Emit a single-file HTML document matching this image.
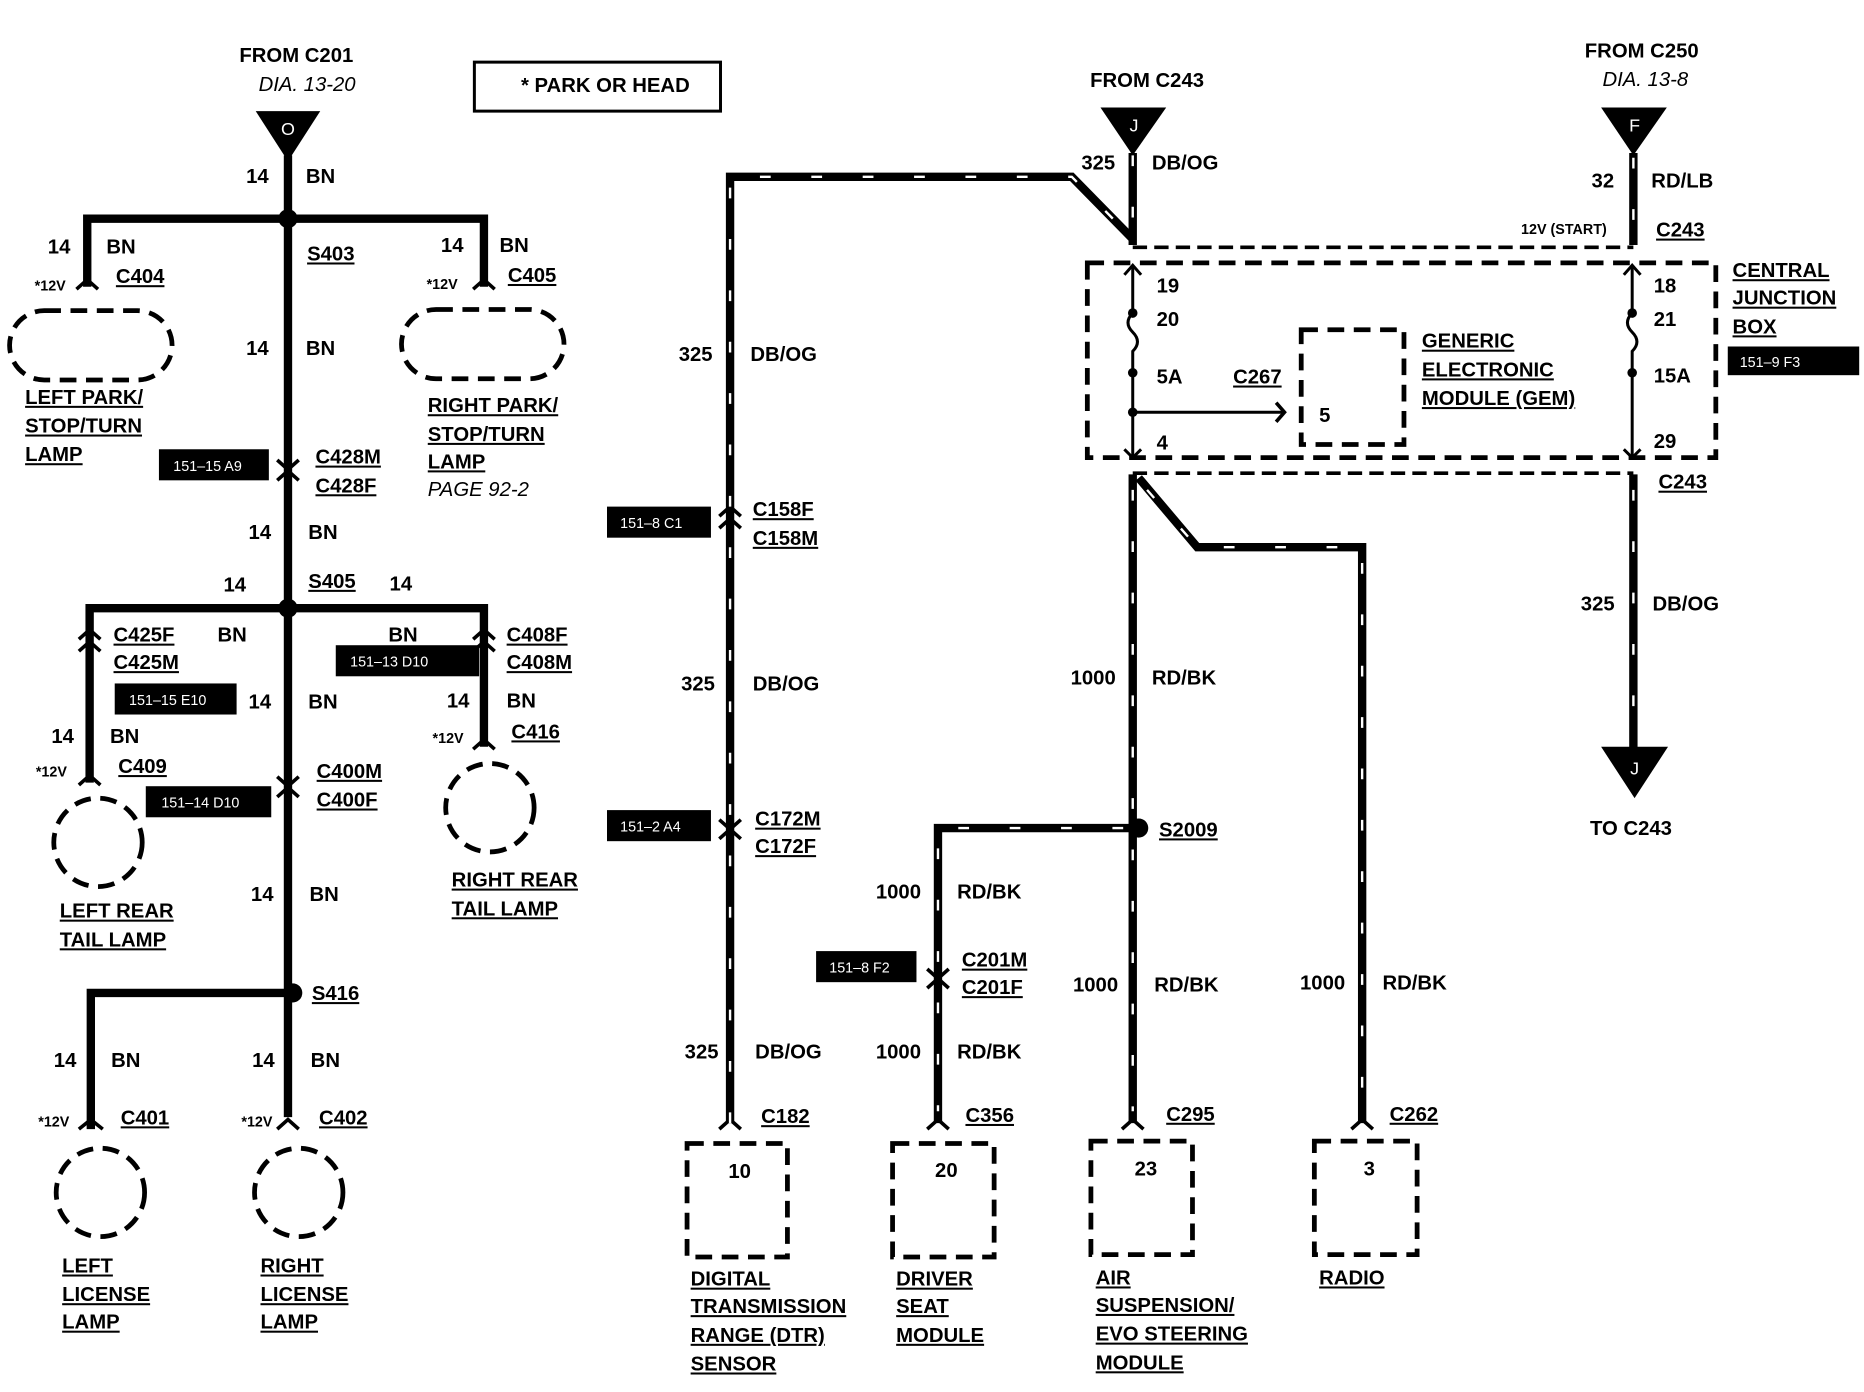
<!DOCTYPE html>
<html><head><meta charset="utf-8"><style>
html,body{margin:0;padding:0;background:#fff;}
svg{display:block;}
text{font-family:"Liberation Sans",sans-serif;font-weight:bold;font-size:17px;fill:#000;}
.u{text-decoration:underline;}
.s{font-size:12px;}
.i{font-style:italic;font-weight:normal;}
.w{fill:#fff;font-weight:normal;font-size:12px;}
.m{text-anchor:middle;}
</style></head><body>
<svg width="1864" height="1392" viewBox="0 0 1560 1165" xmlns="http://www.w3.org/2000/svg">
<g stroke="#000" stroke-width="7" fill="none">
<!-- left section -->
<path d="M241 130 V935"/>
<path d="M73 240 V183 H405 V240"/>
<path d="M75 655 V509 H405 V625"/>
<path d="M76 945 V831 H245"/>
</g>
<g fill="#000">
<polygon points="214,93 268,93 241,135"/>
<polygon points="921,90 976,90 948,130"/>
<polygon points="1340,90 1395,90 1367,130"/>
<polygon points="1340,625 1396,625 1368,668"/>
<circle cx="241" cy="183" r="8"/><circle cx="241" cy="509" r="8"/><circle cx="245" cy="831" r="8"/>
<circle cx="953" cy="693" r="8"/>
</g>
<text x="241" y="113" class="m" style="fill:#fff;font-weight:normal;font-size:15px">O</text>
<text x="949" y="110" class="m" style="fill:#fff;font-weight:normal;font-size:15px">J</text>
<text x="1368" y="110" class="m" style="fill:#fff;font-weight:normal;font-size:15px">F</text>
<text x="1368" y="648" class="m" style="fill:#fff;font-weight:normal;font-size:15px">J</text>
<!-- connector chevrons -->
<g stroke="#000" stroke-width="3" fill="none">
<path d="M64 242 L73 234 L82 242"/><path d="M396 242 L405 234 L414 242"/>
<path d="M66 657 L75 649 L84 657"/><path d="M396 627 L405 619 L414 627"/>
<path d="M66 945 L76 937 L86 945"/><path d="M232 945 L241 937 L250 945"/>
<path d="M232 385 L241 393 L250 385"/><path d="M232 402 L241 394 L250 402"/>
<path d="M232 650 L241 658 L250 650"/><path d="M232 667 L241 659 L250 667"/>
<path d="M66 545 L75 537 L84 545"/><path d="M66 535 L75 527 L84 535"/>
<path d="M396 545 L405 537 L414 545"/><path d="M396 535 L405 527 L414 535"/>
<path d="M602 442 L611 434 L620 442"/><path d="M602 432 L611 424 L620 432"/>
<path d="M602 686 L611 694 L620 686"/><path d="M602 702 L611 694 L620 702"/>
<path d="M776 811 L785 819 L794 811"/><path d="M776 827 L785 819 L794 827"/>
<path d="M602 945 L611 937 L620 945"/><path d="M776 945 L785 937 L794 945"/>
<path d="M939 945 L948 937 L957 945"/><path d="M1131 945 L1140 937 L1149 945"/>
<path d="M1068 337 L1075 345 L1068 353"/>
</g>
<!-- lamps -->
<g stroke="#000" stroke-width="4" fill="none" stroke-dasharray="14 8">
<rect x="8" y="260" width="136" height="58" rx="29"/>
<rect x="336" y="259" width="136" height="58" rx="29"/>
<circle cx="82" cy="705" r="37"/><circle cx="410" cy="676" r="37"/>
<circle cx="84" cy="998" r="37"/><circle cx="250" cy="998" r="37"/>
<rect x="575" y="957" width="84" height="95"/>
<rect x="747" y="957" width="85" height="95"/>
<rect x="913" y="955" width="85" height="95"/>
<rect x="1100" y="955" width="86" height="95"/>
<rect x="910" y="220" width="526" height="163"/>
<rect x="1089" y="276" width="86" height="96"/>
<path d="M948 207 H1367" stroke-dasharray="12 6" stroke-width="3"/>
<path d="M948 396 H1367" stroke-dasharray="12 6" stroke-width="3"/>
</g>
<!-- middle wires -->
<g stroke="#000" stroke-width="7" fill="none">
<path id="w1" d="M611 940 V148 H897 L948 200"/>
<path d="M948 128 V205"/>
<path d="M948 397 V940"/>
<path d="M953 400 L1002 458 H1140 V940"/>
<path d="M953 693 H785 V940"/>
<path d="M1367 128 V205"/>
<path d="M1367 397 V628"/>
</g>
<g stroke="#fff" stroke-width="2" fill="none" stroke-dasharray="9 34">
<path d="M611 940 V148 H897 L948 200"/><path d="M948 130 V200"/>
<path d="M948 410 V930"/><path d="M960 410 L1002 458 H1140 V930"/>
<path d="M940 693 H785 V930"/><path d="M1367 132 V200"/><path d="M1367 410 V615"/>
</g>
<!-- junction box internals -->
<g stroke="#000" stroke-width="2.5" fill="none">
<path d="M948 222 V262 q-8 8 0 16 q8 8 0 16 V383"/>
<path d="M1366 222 V262 q-8 8 0 16 q8 8 0 16 V383"/>
<path d="M948 345 H1075"/>
<path d="M941 230 L948 222 L955 230"/><path d="M1359 230 L1366 222 L1373 230"/>
<path d="M941 376 L948 383 L955 376"/><path d="M1359 376 L1366 383 L1373 376"/>
<rect x="397" y="52" width="206" height="41"/>
</g>
<g fill="#000"><circle cx="948" cy="262" r="4"/><circle cx="948" cy="312" r="4"/><circle cx="948" cy="345" r="4"/>
<circle cx="1366" cy="262" r="4"/><circle cx="1366" cy="312" r="4"/>
<rect x="133" y="376" width="92" height="26"/><rect x="96" y="572" width="102" height="26"/>
<rect x="281" y="540" width="120" height="26"/><rect x="122" y="658" width="105" height="26"/>
<rect x="508" y="424" width="87" height="26"/><rect x="508" y="678" width="87" height="26"/>
<rect x="683" y="796" width="84" height="26"/><rect x="1446" y="290" width="110" height="24"/></g>
<text x="145" y="394" class="w">151–15 A9</text><text x="108" y="590" class="w">151–15 E10</text>
<text x="293" y="558" class="w">151–13 D10</text><text x="135" y="676" class="w">151–14 D10</text>
<text x="519" y="442" class="w">151–8 C1</text><text x="519" y="696" class="w">151–2 A4</text>
<text x="694" y="814" class="w">151–8 F2</text><text x="1456" y="307" class="w">151–9 F3</text>
<!-- texts left -->
<text x="248" y="52" class="m">FROM C201</text><text x="257" y="76" class="m i">DIA. 13-20</text>
<text x="436" y="77">* PARK OR HEAD</text>
<text x="206" y="153">14</text><text x="256" y="153">BN</text>
<text x="40" y="212">14</text><text x="89" y="212">BN</text>
<text x="369" y="211">14</text><text x="418" y="211">BN</text>
<text x="257" y="218" class="u">S403</text>
<text x="29" y="243" class="s">*12V</text><text x="97" y="237" class="u">C404</text>
<text x="357" y="242" class="s">*12V</text><text x="425" y="236" class="u">C405</text>
<text x="206" y="297">14</text><text x="256" y="297">BN</text>
<text x="21" y="338" class="u">LEFT PARK/</text><text x="21" y="362" class="u">STOP/TURN</text><text x="21" y="386" class="u">LAMP</text>
<text x="358" y="345" class="u">RIGHT PARK/</text><text x="358" y="369" class="u">STOP/TURN</text><text x="358" y="392" class="u">LAMP</text>
<text x="358" y="415" class="i">PAGE 92-2</text>
<text x="264" y="388" class="u">C428M</text><text x="264" y="412" class="u">C428F</text>
<text x="208" y="451">14</text><text x="258" y="451">BN</text>
<text x="187" y="495">14</text><text x="258" y="492" class="u">S405</text><text x="326" y="494">14</text>
<text x="95" y="537" class="u">C425F</text><text x="95" y="560" class="u">C425M</text><text x="182" y="537">BN</text>
<text x="325" y="537">BN</text><text x="424" y="537" class="u">C408F</text><text x="424" y="560" class="u">C408M</text>
<text x="208" y="593">14</text><text x="258" y="593">BN</text>
<text x="374" y="592">14</text><text x="424" y="592">BN</text>
<text x="43" y="622">14</text><text x="92" y="622">BN</text>
<text x="362" y="622" class="s">*12V</text><text x="428" y="618" class="u">C416</text>
<text x="30" y="650" class="s">*12V</text><text x="99" y="647" class="u">C409</text>
<text x="265" y="651" class="u">C400M</text><text x="265" y="675" class="u">C400F</text>
<text x="378" y="742" class="u">RIGHT REAR</text><text x="378" y="766" class="u">TAIL LAMP</text>
<text x="210" y="754">14</text><text x="259" y="754">BN</text>
<text x="50" y="768" class="u">LEFT REAR</text><text x="50" y="792" class="u">TAIL LAMP</text>
<text x="261" y="837" class="u">S416</text>
<text x="45" y="893">14</text><text x="93" y="893">BN</text><text x="211" y="893">14</text><text x="260" y="893">BN</text>
<text x="32" y="943" class="s">*12V</text><text x="101" y="941" class="u">C401</text>
<text x="202" y="943" class="s">*12V</text><text x="267" y="941" class="u">C402</text>
<text x="52" y="1065" class="u">LEFT</text><text x="52" y="1089" class="u">LICENSE</text><text x="52" y="1112" class="u">LAMP</text>
<text x="218" y="1065" class="u">RIGHT</text><text x="218" y="1089" class="u">LICENSE</text><text x="218" y="1112" class="u">LAMP</text>
<!-- middle texts -->
<text x="960" y="73" class="m">FROM C243</text>
<text x="905" y="142">325</text><text x="964" y="142">DB/OG</text>
<text x="568" y="302">325</text><text x="628" y="302">DB/OG</text>
<text x="630" y="432" class="u">C158F</text><text x="630" y="456" class="u">C158M</text>
<text x="570" y="578">325</text><text x="630" y="578">DB/OG</text>
<text x="632" y="691" class="u">C172M</text><text x="632" y="714" class="u">C172F</text>
<text x="573" y="886">325</text><text x="632" y="886">DB/OG</text>
<text x="637" y="940" class="u">C182</text>
<text x="619" y="986" class="m">10</text>
<text x="578" y="1076" class="u">DIGITAL</text><text x="578" y="1099" class="u">TRANSMISSION</text><text x="578" y="1123" class="u">RANGE (DTR)</text><text x="578" y="1147" class="u">SENSOR</text>
<text x="896" y="573">1000</text><text x="964" y="573">RD/BK</text>
<text x="970" y="700" class="u">S2009</text>
<text x="733" y="752">1000</text><text x="801" y="752">RD/BK</text>
<text x="805" y="809" class="u">C201M</text><text x="805" y="832" class="u">C201F</text>
<text x="898" y="830">1000</text><text x="966" y="830">RD/BK</text>
<text x="1088" y="828">1000</text><text x="1157" y="828">RD/BK</text>
<text x="733" y="886">1000</text><text x="801" y="886">RD/BK</text>
<text x="808" y="939" class="u">C356</text><text x="976" y="938" class="u">C295</text><text x="1163" y="938" class="u">C262</text>
<text x="792" y="985" class="m">20</text><text x="959" y="984" class="m">23</text><text x="1146" y="984" class="m">3</text>
<text x="750" y="1076" class="u">DRIVER</text><text x="750" y="1099" class="u">SEAT</text><text x="750" y="1123" class="u">MODULE</text>
<text x="917" y="1075" class="u">AIR</text><text x="917" y="1098" class="u">SUSPENSION/</text><text x="917" y="1122" class="u">EVO STEERING</text><text x="917" y="1146" class="u">MODULE</text>
<text x="1104" y="1075" class="u">RADIO</text>
<!-- junction texts -->
<text x="968" y="245">19</text><text x="968" y="273">20</text><text x="968" y="321">5A</text><text x="968" y="376">4</text>
<text x="1032" y="321" class="u">C267</text><text x="1104" y="353">5</text>
<text x="1190" y="291" class="u">GENERIC</text><text x="1190" y="315" class="u">ELECTRONIC</text><text x="1190" y="339" class="u">MODULE (GEM)</text>
<text x="1384" y="245">18</text><text x="1384" y="273">21</text><text x="1384" y="320">15A</text><text x="1384" y="375">29</text>
<text x="1450" y="232" class="u">CENTRAL</text><text x="1450" y="255" class="u">JUNCTION</text><text x="1450" y="279" class="u">BOX</text>
<text x="1374" y="48" class="m">FROM C250</text><text x="1377" y="72" class="m i">DIA. 13-8</text>
<text x="1332" y="157">32</text><text x="1382" y="157">RD/LB</text>
<text x="1273" y="196" class="s">12V (START)</text><text x="1386" y="198" class="u">C243</text>
<text x="1388" y="409" class="u">C243</text>
<text x="1323" y="511">325</text><text x="1383" y="511">DB/OG</text>
<text x="1365" y="699" class="m">TO C243</text>
</svg>
</body></html>
